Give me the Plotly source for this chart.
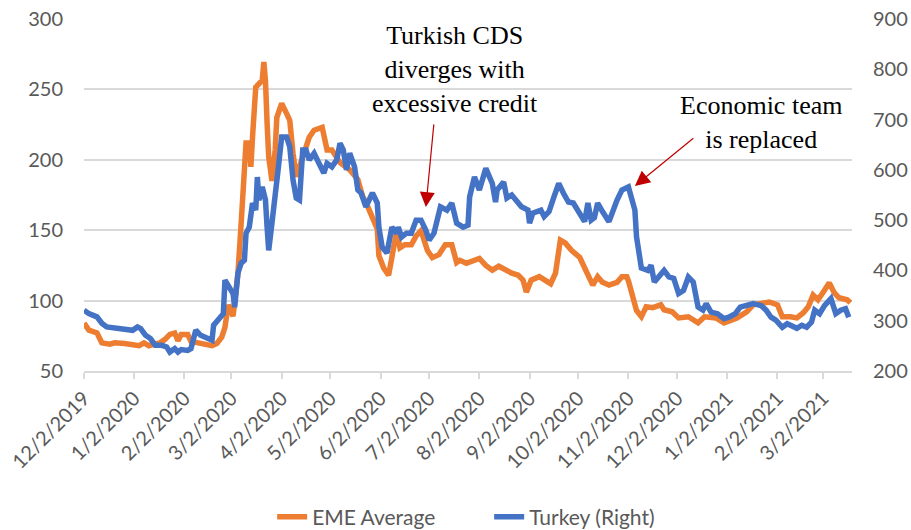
import plotly.graph_objects as go

# ---------------- data ----------------
eme_dates = ["2019-12-02","2019-12-05","2019-12-10","2019-12-13","2019-12-18","2019-12-21","2019-12-27",
    "2020-01-02","2020-01-05","2020-01-08","2020-01-11","2020-01-14","2020-01-18","2020-01-21","2020-01-24",
    "2020-01-27","2020-01-29","2020-01-31","2020-02-04","2020-02-06","2020-02-10","2020-02-14","2020-02-19",
    "2020-02-22","2020-02-25","2020-02-27","2020-02-29","2020-03-03","2020-03-06","2020-03-08","2020-03-11",
    "2020-03-13","2020-03-14","2020-03-15","2020-03-17","2020-03-19","2020-03-21","2020-03-22","2020-03-23",
    "2020-03-24","2020-03-25","2020-03-27","2020-03-29","2020-03-30","2020-04-02","2020-04-05","2020-04-07",
    "2020-04-09","2020-04-11","2020-04-13","2020-04-15","2020-04-19","2020-04-22","2020-04-27","2020-04-30",
    "2020-05-03","2020-05-08","2020-05-14","2020-05-19","2020-05-22","2020-05-25","2020-05-28","2020-05-31",
    "2020-06-01","2020-06-04","2020-06-07","2020-06-10","2020-06-12","2020-06-14","2020-06-17","2020-06-21",
    "2020-06-24","2020-06-27","2020-07-01","2020-07-04","2020-07-08","2020-07-12","2020-07-16","2020-07-19",
    "2020-07-21","2020-07-25","2020-07-29","2020-08-02","2020-08-06","2020-08-10","2020-08-14","2020-08-18",
    "2020-08-22","2020-08-26","2020-08-29","2020-08-31","2020-09-03","2020-09-08","2020-09-12","2020-09-15",
    "2020-09-18","2020-09-21","2020-09-24","2020-09-28","2020-10-03","2020-10-06","2020-10-09","2020-10-11",
    "2020-10-14","2020-10-17","2020-10-21","2020-10-26","2020-10-29","2020-11-01","2020-11-02","2020-11-04",
    "2020-11-07","2020-11-10","2020-11-13","2020-11-17","2020-11-22","2020-11-24","2020-11-29","2020-12-03",
    "2020-12-09","2020-12-15","2020-12-19","2020-12-26","2020-12-31","2021-01-08","2021-01-14","2021-01-18",
    "2021-01-24","2021-01-28","2021-02-02","2021-02-05","2021-02-10","2021-02-14","2021-02-18","2021-02-21",
    "2021-02-24","2021-02-27","2021-03-02","2021-03-06","2021-03-09","2021-03-12","2021-03-17","2021-03-19"]
eme_values = [84,79,77,70,69,70,69.5,
    68,68,70,68,69,70,72.5,76,
    77,71.5,76,76,71,70,69,68,
    69.5,74,81,97,89,119,155,212,
    212,195,216,251.6,254,256.5,269.5,256,
    226,202,185,207,230,240,233,228,
    204.6,188,195,202,216,221,223,207,
    207,198,193,186,174,167,158,151,
    132,123,118,135.5,149.6,137.5,139.7,139.7,
    146,149.6,135.5,130.5,132.6,139.7,139.7,127,
    128.6,126.5,128.6,130,125,121.6,124.4,121.6,
    119.5,118,114.5,106,114.5,117,114.5,112,
    119.5,143,141,135.5,130.6,123.6,114.5,111,
    117,113,111,113,117,117,114,105,
    93,88.6,95.6,95,97,93.5,92,87.7,
    88.5,84.2,88.5,87.7,84.2,87.7,92,97,
    98.2,99,97,88.5,88.5,87.7,91.4,95.6,
    104,100.6,105.6,112.6,105.6,102,100.6,98.5]

tur_dates = ["2019-12-02","2019-12-05","2019-12-10","2019-12-13","2019-12-16","2019-12-22","2019-12-27",
    "2020-01-01","2020-01-04","2020-01-06","2020-01-09","2020-01-12","2020-01-15","2020-01-19","2020-01-22",
    "2020-01-24","2020-01-27","2020-01-29","2020-01-31","2020-02-04","2020-02-06","2020-02-09","2020-02-12",
    "2020-02-16","2020-02-19","2020-02-20","2020-02-23","2020-02-26","2020-02-27","2020-03-01","2020-03-03",
    "2020-03-04","2020-03-06","2020-03-08","2020-03-10","2020-03-11","2020-03-13","2020-03-15","2020-03-17",
    "2020-03-18","2020-03-19","2020-03-21","2020-03-23","2020-03-24","2020-03-25","2020-03-27","2020-03-29",
    "2020-03-30","2020-03-31","2020-04-02","2020-04-05","2020-04-07","2020-04-09","2020-04-11","2020-04-13",
    "2020-04-15","2020-04-17","2020-04-19","2020-04-22","2020-04-25","2020-04-28","2020-04-30","2020-05-03",
    "2020-05-06","2020-05-08","2020-05-10","2020-05-12","2020-05-14","2020-05-17","2020-05-19","2020-05-21",
    "2020-05-24","2020-05-28","2020-05-31","2020-06-01","2020-06-03","2020-06-06","2020-06-09","2020-06-12",
    "2020-06-13","2020-06-15","2020-06-18","2020-06-21","2020-06-24","2020-06-27","2020-06-30","2020-07-02",
    "2020-07-05","2020-07-09","2020-07-13","2020-07-16","2020-07-19","2020-07-23","2020-07-26","2020-07-27",
    "2020-07-30","2020-08-02","2020-08-06","2020-08-09","2020-08-10","2020-08-12","2020-08-13","2020-08-17",
    "2020-08-19","2020-08-22","2020-08-25","2020-08-28","2020-09-01","2020-09-02","2020-09-04","2020-09-09",
    "2020-09-11","2020-09-14","2020-09-17","2020-09-20","2020-09-23","2020-09-26","2020-09-29","2020-10-04",
    "2020-10-06","2020-10-08","2020-10-10","2020-10-12","2020-10-14","2020-10-17","2020-10-21","2020-10-26",
    "2020-10-29","2020-11-02","2020-11-04","2020-11-06","2020-11-07","2020-11-10","2020-11-14","2020-11-16",
    "2020-11-18","2020-11-21","2020-11-24","2020-11-27","2020-11-30","2020-12-03","2020-12-06","2020-12-09",
    "2020-12-12","2020-12-15","2020-12-18","2020-12-20","2020-12-23","2020-12-27","2020-12-31","2021-01-03",
    "2021-01-07","2021-01-10","2021-01-14","2021-01-18","2021-01-23","2021-01-26","2021-01-29","2021-02-01",
    "2021-02-05","2021-02-08","2021-02-14","2021-02-17","2021-02-20","2021-02-23","2021-02-25","2021-02-28",
    "2021-03-03","2021-03-07","2021-03-10","2021-03-13","2021-03-16","2021-03-18"]
tur_values = [321,314,307.6,295,287.7,284.4,283,
    281,287.7,284.4,271,264.5,251,251,247.8,
    237.8,244.6,237.8,242.6,241,244.6,281,271,
    264.5,261,291,301,314,380.7,367,354,
    327,394.6,414.5,420.5,474,486,534,520,
    585.7,540,566,540,486,440,494,546,
    560,606,665.5,665.5,645.7,580,544,540,
    639.6,639.6,620,633,613,593.6,613,606,
    620,653,640,600,633,606,560,554,
    526.6,554,534,486,446.5,434.6,486,474,
    486,466.3,474,474,500,500,480,460,
    474,526.6,520,534,494,486,490,546,
    586,560,603,580,573,536,560,576,
    544,550,540,526.6,520,494,514,520,
    507,517,546,573,553,536,534,507,
    497,534,500,505,534,517,497,540,
    560,566,546,520,467,404.7,400,410.5,
    377,387,400,387,384,354,360,387,
    377,327,321,334,317,314,304,307,
    314,327,330,334,330,321,307,301,
    287,294,285,291,287,297,321,314,
    330,344,314,321,324,307]

tick_dates = ["2019-12-02","2020-01-02","2020-02-02","2020-03-02","2020-04-02","2020-05-02","2020-06-02",
    "2020-07-02","2020-08-02","2020-09-02","2020-10-02","2020-11-02","2020-12-02","2021-01-02",
    "2021-02-02","2021-03-02"]
tick_labels = ["12/2/2019","1/2/2020","2/2/2020","3/2/2020","4/2/2020","5/2/2020","6/2/2020",
    "7/2/2020","8/2/2020","9/2/2020","10/2/2020","11/2/2020","12/2/2020","1/2/2021",
    "2/2/2021","3/2/2021"]

# ---------------- figure ----------------
ORANGE = "#ED7D31"
BLUE = "#4472C4"
GRID = "#D9D9D9"
TXT = "#595959"
SANS = "Lato, 'Noto Sans', sans-serif"
SERIF = "'Liberation Serif', 'Times New Roman', serif"

fig = go.Figure()
fig.add_trace(go.Scatter(x=eme_dates, y=eme_values, name="EME Average", mode="lines",
                         line=dict(color=ORANGE, width=5.5), yaxis="y"))
fig.add_trace(go.Scatter(x=tur_dates, y=tur_values, name="Turkey (Right)", mode="lines",
                         line=dict(color=BLUE, width=5.5), yaxis="y2"))

ann_font = dict(family=SERIF, size=26, color="black")
annotations = [
    dict(x="2020-07-18", y=263.9, xref="x", yref="y", text="Turkish CDS<br>diverges with<br>excessive credit",
         showarrow=False, font=ann_font, xanchor="center", yanchor="middle", align="center"),
    dict(x="2021-01-23", y=226.5, xref="x", yref="y", text="Economic team<br>is replaced",
         showarrow=False, font=ann_font, xanchor="center", yanchor="middle", align="center"),
    dict(x="2020-06-30", y=166.4, xref="x", yref="y", ax="2020-07-05", ay=226.2, axref="x", ayref="y",
         text="", showarrow=True, arrowhead=2, arrowsize=2.5, arrowwidth=1.2, arrowcolor="#C00000"),
    dict(x="2020-11-06", y=181.4, xref="x", yref="y", ax="2020-12-13", ay=216.2, axref="x", ayref="y",
         text="", showarrow=True, arrowhead=2, arrowsize=2.5, arrowwidth=1.2, arrowcolor="#C00000"),
]

fig.update_layout(
    width=911, height=530,
    margin=dict(l=84, r=59, t=19, b=159, autoexpand=False),
    paper_bgcolor="white", plot_bgcolor="white",
    font=dict(family=SANS, size=20, color=TXT),
    showlegend=True,
    legend=dict(orientation="h", x=0.245, xanchor="left", y=-0.415, yanchor="middle",
                entrywidth=172, entrywidthmode="pixels",
                font=dict(family=SANS, size=21, color=TXT), bgcolor="rgba(0,0,0,0)"),
    xaxis=dict(type="date", range=["2019-12-02", "2021-03-20"], tickmode="array",
               tickvals=tick_dates, ticktext=tick_labels, tickangle=-45, automargin=False,
               showgrid=False, showline=True, linecolor=GRID, linewidth=1.5,
               ticks="outside", ticklen=6, tickcolor=GRID, tickwidth=1.5,
               tickfont=dict(family=SANS, size=20, color=TXT), zeroline=False),
    yaxis=dict(range=[50, 300], tickvals=[50, 100, 150, 200, 250, 300], showgrid=True,
               gridcolor=GRID, gridwidth=1.5, zeroline=False, showline=False, automargin=False,
               ticklabelstandoff=20, tickfont=dict(family=SANS, size=20, color=TXT)),
    yaxis2=dict(range=[200, 900], tickvals=[200, 300, 400, 500, 600, 700, 800, 900], overlaying="y",
                side="right", showgrid=False, zeroline=False, showline=False, automargin=False,
                ticklabelstandoff=20, tickfont=dict(family=SANS, size=20, color=TXT)),
    annotations=annotations,
)

fig.write_html("out.html", config={"displayModeBar": False},
               post_script="document.body.style.margin='0';")
